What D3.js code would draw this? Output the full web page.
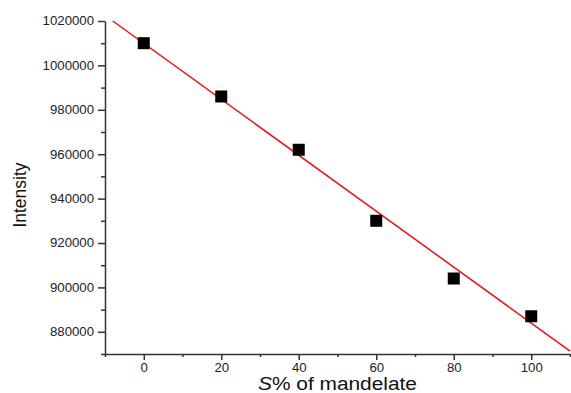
<!DOCTYPE html>
<html>
  <head>
    <meta charset="utf-8">
    <title>Intensity vs S% of mandelate</title>
    <script src="https://cdn.jsdelivr.net/npm/d3@7"></script>
    <style>
      body { margin: 0; background: #fff; }
      text { font-family: "Liberation Sans", Arial, sans-serif; }
    </style>
  </head>
  <body>
    <svg width="571" height="393" id="mainsvg"></svg>
    <script>
      // data
      const percentS = [0, 20, 40, 60, 80, 100];
      const intensity = [1010000, 986000, 962000, 930000, 904000, 887000];
      // linear fit line, end points
      const fitX = [-8, 110];
      const fitY = [1020000, 871300];
      const xTicks = [0, 20, 40, 60, 80, 100];
      const xMinor = [-10, 10, 30, 50, 70, 90, 110];
      const yTicks = [880000, 900000, 920000, 940000, 960000, 980000, 1000000, 1020000];
      const yMinor = [870000, 890000, 910000, 930000, 950000, 970000, 990000, 1010000];

      const svg = d3.select('#mainsvg');
      const axisColor = '#333';

      const xScale = d3.scaleLinear().domain([-10, 110]).range([105, 570]);
      const yScale = d3.scaleLinear().domain([870000, 1020000]).range([354, 21]);

      // minor ticks first
      svg.append('g')
        .attr('transform', `translate(0, ${yScale.range()[0]})`)
        .call(d3.axisBottom(xScale).tickValues(xMinor).tickSize(3).tickFormat(''))
        .call(g => g.select('.domain').remove());
      svg.append('g')
        .attr('transform', `translate(${xScale.range()[0]}, 0)`)
        .call(d3.axisLeft(yScale).tickValues(yMinor).tickSize(4).tickFormat(''))
        .call(g => g.select('.domain').remove());

      const xAxis = svg.append('g')
        .attr('transform', `translate(0, ${yScale.range()[0]})`)
        .call(d3.axisBottom(xScale).tickValues(xTicks).tickSize(6).tickSizeOuter(0).tickPadding(3));
      const yAxis = svg.append('g')
        .attr('transform', `translate(${xScale.range()[0]}, 0)`)
        .call(d3.axisLeft(yScale).tickValues(yTicks).tickSize(7).tickSizeOuter(0).tickPadding(4)
          .tickFormat(d3.format('d')));

      [xAxis, yAxis].forEach(ax => {
        ax.selectAll('path, line').attr('stroke', axisColor).attr('stroke-width', 1.5);
        ax.selectAll('text').attr('font-size', 12).attr('fill', '#222')
          .attr('font-family', '"Liberation Sans", Arial, sans-serif');
      });
      svg.selectAll('.tick line').attr('stroke', axisColor).attr('stroke-width', 1.5);

      // the source picture is a little wide, stretch the labels the same way
      svg.selectAll('.tick text').each(function() {
        const w = this.getComputedTextLength();
        d3.select(this).attr('textLength', w * 1.1).attr('lengthAdjust', 'spacingAndGlyphs');
      });

      // fit line
      svg.append('line')
        .attr('x1', xScale(fitX[0])).attr('y1', yScale(fitY[0]))
        .attr('x2', xScale(fitX[1])).attr('y2', yScale(fitY[1]))
        .attr('stroke', '#ee1111').attr('stroke-width', 1.5);

      // points
      const size = 12;
      svg.selectAll('rect.pt').data(percentS).join('rect')
        .attr('class', 'pt')
        .attr('x', d => xScale(d) - size / 2)
        .attr('y', (d, i) => yScale(intensity[i]) - size / 2)
        .attr('width', size).attr('height', size)
        .attr('fill', '#000');

      // axis titles
      const xt = svg.append('text')
        .attr('x', (xScale.range()[0] + xScale.range()[1]) / 2)
        .attr('y', 390)
        .attr('text-anchor', 'middle')
        .attr('font-size', 18)
        .attr('fill', '#111');
      xt.append('tspan').attr('font-style', 'italic').text('S');
      xt.append('tspan').text('% of mandelate');
      xt.attr('textLength', 159).attr('lengthAdjust', 'spacingAndGlyphs');

      svg.append('text')
        .attr('transform', 'translate(26, 195) rotate(-90)')
        .attr('text-anchor', 'middle')
        .attr('font-size', 17.5)
        .attr('fill', '#111')
        .text('Intensity');
    </script>
  </body>
</html>
